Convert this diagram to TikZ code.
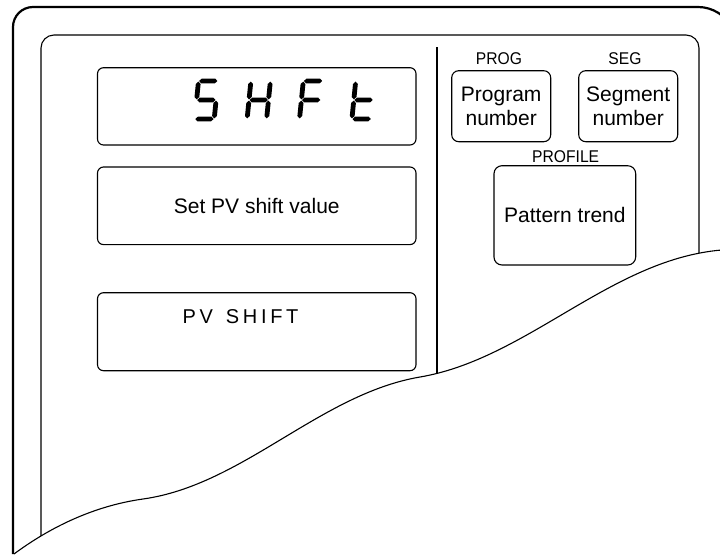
\documentclass[tikz,border=0pt]{standalone}
\usepackage{fontspec}
\usepackage{graphicx}
\setmainfont{Liberation Sans}
\newcommand{\sgH}{2.4}
\newcommand{\sgG}{0.6}
% horizontal segment: x1, x2, y
\newcommand{\hsegm}[3]{\fill ({#1+\sgG},#3) -- ({#1+\sgG+\sgH},{#3-\sgH}) -- ({#2-\sgG-\sgH},{#3-\sgH}) -- ({#2-\sgG},#3) -- ({#2-\sgG-\sgH},{#3+\sgH}) -- ({#1+\sgG+\sgH},{#3+\sgH}) -- cycle;}
% vertical segment: x, y1, y2
\newcommand{\vsegm}[3]{\fill (#1,{#2+\sgG}) -- ({#1+\sgH},{#2+\sgG+\sgH}) -- ({#1+\sgH},{#3-\sgG-\sgH}) -- (#1,{#3-\sgG}) -- ({#1-\sgH},{#3-\sgG-\sgH}) -- ({#1-\sgH},{#2+\sgG+\sgH}) -- cycle;}
\newcommand{\sgA}{\hsegm{0}{19.5}{0}}
\newcommand{\sgB}{\vsegm{19.5}{0}{19}}
\newcommand{\sgC}{\vsegm{19.5}{19}{38}}
\newcommand{\sgD}{\hsegm{0}{19.5}{38}}
\newcommand{\sgE}{\vsegm{0}{19}{38}}
\newcommand{\sgF}{\vsegm{0}{0}{19}}
\newcommand{\sgMid}{\hsegm{0}{19.5}{19}}
\newcommand{\ksp}{\kern3.7pt}
\newcommand{\narrowtag}[1]{\scalebox{0.92}[1]{#1}}
\begin{document}
\begin{tikzpicture}[x=1pt,y=-1pt,
  panel/.style={draw, line width=1.1pt, rounded corners=6pt, inner sep=0pt},
  keybox/.style={draw, line width=1.1pt, rounded corners=7pt, inner sep=0pt, align=center, font=\fontsize{21}{24}\selectfont},
  tag/.style={inner sep=0pt, font=\fontsize{17}{19}\selectfont},
  thin/.style={line width=1.1pt},
  thick/.style={line width=2.2pt}]
\useasboundingbox (0,0) rectangle (720,555);
\begin{scope}
  \clip (14,554) .. controls (49,528) and (93,506) .. (143,499)
        .. controls (243,485) and (320,394) .. (420,377)
        .. controls (520,360) and (600,272) .. (700,253)
        .. controls (708,251.5) and (715,250.5) .. (722,250)
        -- (740,250) -- (740,-10) -- (-10,-10) -- (-10,554) -- cycle;
  % outer casing
  \draw[thick] (13,560) -- (13,27) arc[start angle=180, end angle=270, radius=20]
     -- (698,7) arc[start angle=270, end angle=335, radius=38];
  % inner bezel
  \draw[thin, rounded corners=13pt] (41,35) rectangle (699,620);
  % divider
  \draw[line width=2pt] (437,47) -- (437,420);
\end{scope}
% cut-away edge
\draw[thin] (14,554) .. controls (49,528) and (93,506) .. (143,499)
        .. controls (243,485) and (320,394) .. (420,377)
        .. controls (520,360) and (600,272) .. (700,253)
        .. controls (708,251.5) and (715,250.5) .. (722,250);
% left panels
\node[panel, minimum width=318.5pt, minimum height=77.3pt] (disp) at (256.75,106.35) {};
\node[panel, minimum width=318.5pt, minimum height=77.6pt, font=\fontsize{21}{24}\selectfont] (setpv) at (256.75,205.8) {Set PV shift value};
\node[panel, minimum width=318.5pt, minimum height=78pt] (pvbox) at (256.75,331.7) {};
\node[inner sep=0pt, font=\fontsize{20}{24}\selectfont] (pvtext) at (240.5,316.5) {P\ksp V\ksp\ \ksp S\ksp H\ksp I\ksp F\ksp T};
% seven-segment "SHFt"
\begin{scope}[shift={(198.5,81)}, xslant=0.1]
  \sgA \sgF \sgMid \sgC \sgD
\end{scope}
\begin{scope}[shift={(250.9,81)}, xslant=0.1]
  \sgF \sgB \sgMid \sgE \sgC
\end{scope}
\begin{scope}[shift={(303.3,81)}, xslant=0.1]
  \sgA \sgF \sgMid \sgE
\end{scope}
\begin{scope}[shift={(355.7,81)}, xslant=0.1]
  \sgF \sgE \sgMid \sgD
\end{scope}
% right panels
\node[tag] (progtag) at (499,59) {\narrowtag{PROG}};
\node[tag] (segtag) at (625,59) {\narrowtag{SEG}};
\node[keybox, minimum width=99pt, minimum height=71pt] (prog) at (501.2,106.2) {Program\\number};
\node[keybox, minimum width=99pt, minimum height=71pt] (seg) at (628.2,106.2) {Segment\\number};
\node[tag] (proftag) at (565.7,157) {\narrowtag{PROFILE}};
\node[keybox, rounded corners=8pt, minimum width=141.7pt, minimum height=99.3pt] (pattern) at (564.85,215.35) {Pattern trend};
\end{tikzpicture}
\end{document}
